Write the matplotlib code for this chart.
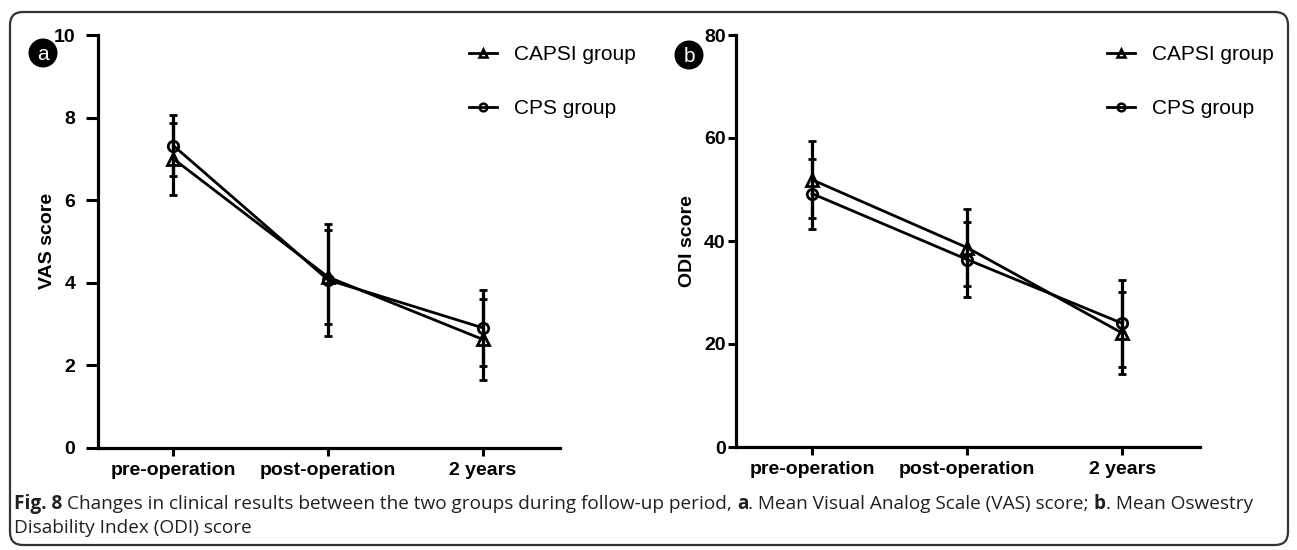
import matplotlib
matplotlib.use('Agg')
import matplotlib.pyplot as plt
from matplotlib.patches import FancyBboxPatch, Circle
from matplotlib.lines import Line2D
import numpy as np

# ---------------- data ----------------
timepoints = ['pre-operation', 'post-operation', '2 years']
series_names = ['CAPSI group', 'CPS group']

vas_capsi_mean = [7.00, 4.14, 2.63]
vas_capsi_sd = [0.87, 1.14, 0.98]
vas_cps_mean = [7.32, 4.07, 2.91]
vas_cps_sd = [0.74, 1.35, 0.92]

odi_capsi_mean = [51.9, 38.7, 22.1]
odi_capsi_sd = [7.5, 7.5, 8.0]
odi_cps_mean = [49.2, 36.4, 24.0]
odi_cps_sd = [6.8, 7.3, 8.5]

vas_ticks = [0, 2, 4, 6, 8, 10]
odi_ticks = [0, 20, 40, 60, 80]
panel_letters = ['a', 'b']
y_labels = ['VAS score', 'ODI score']

caption_line1 = [('Fig. 8', 'bold', True),
                 ('Changes in clinical results between the two groups during follow-up period,', 'normal', True),
                 ('a', 'bold', False),
                 ('. Mean Visual Analog Scale (VAS) score;', 'normal', True),
                 ('b', 'bold', False),
                 ('. Mean Oswestry', 'normal', False)]
caption_line2 = [('Disability Index (ODI) score', 'normal', False)]

# ---------------- figure ----------------
W, H = 1297, 550
plt.rcParams['font.family'] = ['Liberation Sans', 'DejaVu Sans']
fig = plt.figure(figsize=(W / 100, H / 100), dpi=100)


def px_rect(l, t, r, b):
    return [l / W, 1 - b / H, (r - l) / W, (b - t) / H]


def fx(x):
    return x / W


def fy(y):
    return 1 - y / H


# outer rounded frame
frame = FancyBboxPatch((0.10, 0.05), 12.78, 5.33,
                       boxstyle='round,pad=0,rounding_size=0.13',
                       transform=fig.dpi_scale_trans, fill=False,
                       edgecolor='#333333', linewidth=1.6, zorder=0)
fig.patches.append(frame)


def draw_panel(ax, capsi_m, capsi_s, cps_m, cps_s, yticks, ytick_len, ytick_pad):
    x = np.arange(len(timepoints))
    common = dict(color='black', lw=2.0, elinewidth=2.3, capsize=3.0,
                  capthick=2.0, mec='black', mew=2.0, mfc='none')
    ax.errorbar(x, capsi_m, yerr=capsi_s, marker='^', ms=8.0, **common, zorder=3)
    ax.errorbar(x, cps_m, yerr=cps_s, marker='o', ms=7.5, **common, zorder=3)
    ax.set_xlim(-0.49, 2.5)
    ax.set_ylim(yticks[0], yticks[-1])
    ax.set_yticks(yticks)
    ax.set_xticks(x)
    ax.set_xticklabels(timepoints, fontsize=14, fontweight='bold')
    ax.set_yticklabels([str(t) for t in yticks], fontsize=14, fontweight='bold')
    for s in ['top', 'right']:
        ax.spines[s].set_visible(False)
    for s in ['left', 'bottom']:
        ax.spines[s].set_linewidth(2.3)
    ax.tick_params(axis='x', length=6, width=2.2, pad=4.0, direction='out')
    ax.tick_params(axis='y', length=ytick_len, width=2.2, pad=ytick_pad, direction='out')
    ax.patch.set_alpha(0)


axA = fig.add_axes(px_rect(97.7, 35, 560, 448))
axB = fig.add_axes(px_rect(736, 35, 1200, 447))
draw_panel(axA, vas_capsi_mean, vas_capsi_sd, vas_cps_mean, vas_cps_sd, vas_ticks, 9.0, 7.2)
draw_panel(axB, odi_capsi_mean, odi_capsi_sd, odi_cps_mean, odi_cps_sd, odi_ticks, 6.0, 1.5)

# y labels
fig.text(fx(47), fy(241), y_labels[0], rotation=90, ha='center', va='center',
         fontsize=14, fontweight='bold')
fig.text(fx(687), fy(241), y_labels[1], rotation=90, ha='center', va='center',
         fontsize=14, fontweight='bold')

# panel badges
for letter, (bx, by) in zip(panel_letters, [(43, 53), (689, 55)]):
    c = Circle((bx / 100, (H - by) / 100), 0.145, transform=fig.dpi_scale_trans,
               facecolor='black', edgecolor='none')
    fig.patches.append(c)
    fig.text(fx(bx), fy(by + 1), letter, color='white', ha='center', va='center',
             fontsize=15)

# legends
handles = [Line2D([], [], color='black', lw=2.0, marker='^', ms=6, mfc='none', mew=1.8),
           Line2D([], [], color='black', lw=2.0, marker='o', ms=5.5, mfc='none', mew=1.8)]
for lx in [469, 1107]:
    fig.legend(handles, series_names, loc='upper left',
               bbox_to_anchor=(fx(lx), fy(45.5)), frameon=False, fontsize=15,
               handlelength=1.35, handletextpad=0.8, labelspacing=1.67,
               borderpad=0, borderaxespad=0)

# caption
cap_font = ['Open Sans', 'DejaVu Sans']
cap_color = '#231f20'
r = fig.canvas.get_renderer()


def text_w(s, size, weight):
    t = fig.text(0, 0, s, fontsize=size, fontweight=weight, family=cap_font)
    w = t.get_window_extent(renderer=r).width
    t.remove()
    return w


def layout(segments, size, x0, yb, draw):
    x = x0
    space = text_w('a a', size, 'normal') - text_w('aa', size, 'normal')
    for s, wgt, sp in segments:
        w = text_w(s, size, wgt)
        if draw:
            fig.text(fx(x), fy(yb), s, fontsize=size, fontweight=wgt, family=cap_font,
                     color=cap_color, ha='left', va='baseline')
        x += w + (space if sp else 0)
    return x - x0


base = 12.0
total = layout(caption_line1, base, 14, 509, False)
size = base * 1235 / total
layout(caption_line1, size, 14, 509, True)
layout(caption_line2, size, 14, 533, True)

fig.savefig('out.png', dpi=100)
